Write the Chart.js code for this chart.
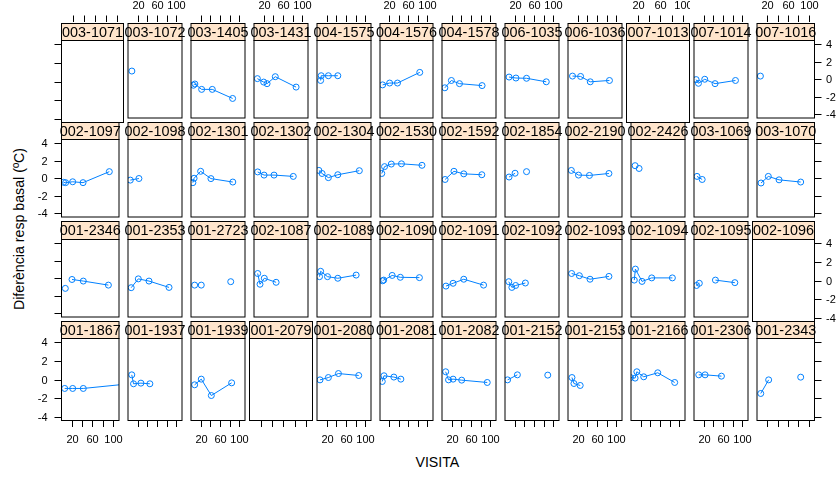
<!DOCTYPE html>
<html>
<head>
<meta charset="utf-8">
<script src="https://cdn.jsdelivr.net/npm/chart.js@4.4.1/dist/chart.umd.min.js"></script>
<style>
  html, body { margin: 0; padding: 0; background: #ffffff; }
  #fig { position: relative; width: 838px; height: 478px; overflow: hidden;
         font-family: "Liberation Sans", Arial, sans-serif; }
  #fig canvas { position: absolute; }
  .axis-title { position: absolute; font-size: 14.2px; color: #000; white-space: nowrap; }
  #xlab { left: 437.4px; top: 461.7px; transform: translate(-50%, -50%); }
  #ylab { left: 19px; top: 228.5px; transform: translate(-50%, -50%) rotate(-90deg); }
</style>
</head>
<body>
<div id="fig">
  <div class="axis-title" id="xlab">VISITA</div>
  <div class="axis-title" id="ylab">Diferència resp basal (ºC)</div>
</div>
<script>
// Panels listed row by row, top row first, left to right.
const subjects = [
  '003-1071','003-1072','003-1405','003-1431','004-1575','004-1576','004-1578','006-1035','006-1036','007-1013','007-1014','007-1016',
  '002-1097','002-1098','002-1301','002-1302','002-1304','002-1530','002-1592','002-1854','002-2190','002-2426','003-1069','003-1070',
  '001-2346','001-2353','001-2723','002-1087','002-1089','002-1090','002-1091','002-1092','002-1093','002-1094','002-1095','002-1096',
  '001-1867','001-1937','001-1939','001-2079','001-2080','001-2081','001-2082','001-2152','001-2153','001-2166','001-2306','001-2343'
];

// VISITA (x) for each subject; a null in diff breaks the line there.
const visita = [
  [], [8], [5, 8, 22, 44, 86], [7, 20, 27, 44, 87], [7.5, 8.7, 23.5, 43], [5.5, 20.3, 36.8, 83.7],
  [5.9, 19.4, 36.1, 82.8], [8.4, 22.6, 44.5, 85.3], [9.3, 26, 46, 85.7], [], [4.4, 9.2, 22.2, 43.5, 85.7], [6.6],

  [3.9, 8, 21.7, 41.8, 92.8], [4.8, 22.6], [3.9, 6.4, 19.9, 41.2, 86.4], [7.6, 20.8, 41.4, 81.2],
  [3.9, 10.5, 23.5, 43, 87.5], [3.7, 9.6, 23.8, 45.2, 88.4], [6.4, 24.7, 45, 82.3], [8.4, 20.8, 33, 44.5],
  [6.9, 21.7, 44.3, 84.6], [8.5, 12.5, 16.7], [6.2, 16.9], [7.8, 22, 42.8, 84.8],

  [7.4, 14, 20.4, 42.3, 91], [6.6, 21.3, 43.4, 84.8], [7.5, 14, 21.2, 50, 82.1], [7.6, 12.4, 21.3, 45.7],
  [5.2, 7.5, 21.7, 43, 80.9], [5.5, 7.8, 25.6, 42.8, 83], [8.2, 22.9, 45, 85.9], [7.8, 14.2, 22, 42.1],
  [7.5, 23.5, 45.5, 84.6], [6.8, 9.1, 22.8, 42.8, 85.5], [5.2, 11, 28, 44.3, 84.4], [],

  [6.2, 21.7, 42.3, 130], [7.8, 11.4, 26.7, 45.2], [7.5, 21.2, 42, 84], [], [6.2, 23.5, 44.3, 86.2],
  [4.8, 8.4, 29.2, 43.9], [7.6, 13.5, 22.9, 40.7, 93.5], [5.3, 25.6, 55, 88.4], [8.2, 12.3, 25.2],
  [-1, 8.5, 12.1, 26.3, 55.3, 90.3], [9.8, 22.9, 56.7], [7.3, 22.6, 50, 84.8]
];

// Difference in basal response (ºC) matching visita, entry by entry.
const diff = [
  [], [0.93], [-0.68, -0.54, -1.15, -1.15, -2.18], [0.07, -0.32, -0.5, 0.29, -0.89], [-0.14, 0.4, 0.4, 0.4], [-0.64, -0.43, -0.43, 0.78],
  [-0.97, -0.14, -0.5, -0.72], [0.25, 0.14, 0.11, -0.29], [0.36, 0.32, -0.29, -0.14], [], [-0.04, -0.46, 0, -0.5, -0.14], [0.36],

  [-0.46, -0.5, -0.4, -0.5, 0.75], [-0.21, -0.03], [-0.5, 0, 0.79, -0.04, -0.43], [0.72, 0.36, 0.36, 0.21],
  [0.89, 0.54, 0.07, 0.4, 0.86], [0.54, 1.32, 1.61, 1.64, 1.47], [-0.14, 0.79, 0.5, 0.4], [0.14, 0.57, null, 0.75],
  [0.89, 0.36, 0.32, 0.54], [1.43, null, 1.11], [0.21, -0.14], [-0.54, 0.21, -0.18, -0.43],

  [-1.15, null, -0.14, -0.32, -0.78], [-1.07, -0.07, -0.32, -1.04], [-0.78, null, -0.78, null, -0.39], [0.54, -0.68, 0, -0.46],
  [0.18, 0.79, 0.18, 0, 0.36], [-0.29, -0.21, 0.32, 0.11, 0.07], [-0.89, -0.57, -0.11, -0.78], [-0.39, -1.04, -0.82, -0.54],
  [0.54, 0.29, -0.11, 0.21], [-0.21, 1.04, -0.36, 0.04, 0.04], [-0.82, -0.57, null, -0.21, -0.5], [],

  [-0.96, -0.96, -0.96, -0.47], [0.5, -0.46, -0.39, -0.46], [-0.57, 0.04, -1.72, -0.36], [], [-0.04, 0.21, 0.64, 0.43],
  [-0.21, 0.4, 0.26, 0.04], [0.83, -0.04, 0.04, -0.07, -0.32], [-0.04, 0.5, null, 0.47], [0.21, -0.43, -0.64],
  [0.21, 0.15, 0.83, 0.29, 0.72, -0.32], [0.5, 0.5, 0.36], [-1.5, -0.04, null, 0.25]
];

const xTicks = [20, 40, 60, 80, 100];
const xTickLabels = ['20', '', '60', '', '100'];
const yTicks = [-4, -2, 0, 2, 4];
const yTickLabels = ['-4', '-2', '0', '2', '4'];

const X_RANGE = [0, 111.6];
const Y_RANGE = [-4.4, 4.4];

const NCOL = 12, NROW = 4;
const W = 838, H = 478;
const FONT = '"Liberation Sans", Arial, sans-serif';
const BLUE = '#0080ff';
const STRIP_BG = '#ffe5cc';

// Grid geometry of the panel layout
const colEdge = c => Math.round(60.5 + c * 62.82);
const rowTop = r => Math.round(22.5 + r * 99.45);
const plotTop = r => Math.round(22.5 + r * 99.45 + 17.3);
const rowBottom = r => Math.round(22.5 + (r + 1) * 99.45);

// Draws strip, panel frame and outer-axis ticks for one panel
const panelDecor = {
  id: 'panelDecor',
  afterDraw(chart, args, o) {
    const ctx = chart.ctx;
    const a = chart.chartArea;
    const xs = chart.scales.x, ys = chart.scales.y;
    ctx.save();
    ctx.lineWidth = 1;
    ctx.strokeStyle = '#000';
    ctx.fillStyle = '#000';

    // strip
    const sTop = o.padT + 0.5;
    ctx.fillStyle = STRIP_BG;
    ctx.fillRect(a.left, sTop, a.right - a.left, a.top - sTop);
    ctx.strokeRect(a.left, sTop, a.right - a.left, a.top - sTop);
    ctx.fillStyle = '#000';
    ctx.font = '14.4px ' + FONT;
    ctx.textAlign = 'center';
    ctx.textBaseline = 'middle';
    ctx.fillText(o.label, (a.left + a.right) / 2, (sTop + a.top) / 2 + 1);

    // panel frame
    ctx.strokeRect(a.left, a.top, a.right - a.left, a.bottom - a.top);

    ctx.font = '11px ' + FONT;
    ctx.beginPath();
    if (o.r === 0) {
      xTicks.forEach((v, i) => {
        const px = Math.round(xs.getPixelForValue(v)) + 0.5;
        ctx.moveTo(px, sTop - 1.5);
        ctx.lineTo(px, sTop - 8);
        if (o.c % 2 === 1 && xTickLabels[i]) {
          ctx.fillText(xTickLabels[i], px, 5.5);
        }
      });
    }
    if (o.r === NROW - 1) {
      xTicks.forEach((v, i) => {
        const px = Math.round(xs.getPixelForValue(v)) + 0.5;
        ctx.moveTo(px, a.bottom);
        ctx.lineTo(px, a.bottom + 6.5);
        if (o.c % 2 === 0 && xTickLabels[i]) {
          ctx.fillText(xTickLabels[i], px, a.bottom + 19);
        }
      });
    }
    if (o.c === 0) {
      ctx.textAlign = 'right';
      yTicks.forEach((v, i) => {
        const py = Math.round(ys.getPixelForValue(v)) + 0.5;
        ctx.moveTo(a.left, py);
        ctx.lineTo(a.left - 7, py);
        if (o.r % 2 === 1) ctx.fillText(yTickLabels[i], a.left - 14, py);
      });
    }
    if (o.c === NCOL - 1) {
      ctx.textAlign = 'left';
      yTicks.forEach((v, i) => {
        const py = Math.round(ys.getPixelForValue(v)) + 0.5;
        ctx.moveTo(a.right, py);
        ctx.lineTo(a.right + 7, py);
        if (o.r % 2 === 0) ctx.fillText(yTickLabels[i], a.right + 11.5, py);
      });
    }
    ctx.stroke();
    ctx.restore();
  }
};

const fig = document.getElementById('fig');

subjects.forEach((label, k) => {
  const r = Math.floor(k / NCOL), c = k % NCOL;
  const L = colEdge(c), R = colEdge(c + 1);
  const T = rowTop(r), P = plotTop(r), B = rowBottom(r);
  const padL = c === 0 ? L : 0;
  const padR = c === NCOL - 1 ? W - R - 1 : 0;
  const padT = r === 0 ? T : 0;
  const padB = r === NROW - 1 ? H - B - 1 : 0;

  const cv = document.createElement('canvas');
  cv.width = R - L + 1 + padL + padR;
  cv.height = B - T + 1 + padT + padB;
  cv.style.left = (L - padL) + 'px';
  cv.style.top = (T - padT) + 'px';
  cv.style.width = cv.width + 'px';
  cv.style.height = cv.height + 'px';
  fig.appendChild(cv);

  const pts = visita[k].map((x, i) => ({ x: x, y: diff[k][i] }));

  new Chart(cv, {
    type: 'line',
    data: {
      datasets: [{
        data: pts,
        borderColor: BLUE,
        borderWidth: 1,
        pointStyle: 'circle',
        pointRadius: 3,
        pointBorderWidth: 1,
        pointBorderColor: BLUE,
        pointBackgroundColor: 'rgba(0,0,0,0)',
        fill: false,
        tension: 0,
        spanGaps: false,
        clip: { left: 0, right: 0, top: 6, bottom: 6 }
      }]
    },
    options: {
      responsive: false,
      animation: false,
      devicePixelRatio: 1,
      events: [],
      layout: {
        padding: { left: padL + 0.5, right: padR + 0.5, top: padT + (P - T) + 0.5, bottom: padB + 0.5 }
      },
      scales: {
        x: { type: 'linear', min: X_RANGE[0], max: X_RANGE[1], display: false },
        y: { type: 'linear', min: Y_RANGE[0], max: Y_RANGE[1], display: false }
      },
      plugins: {
        legend: { display: false },
        tooltip: { enabled: false },
        panelDecor: { label: label, r: r, c: c, padT: padT }
      }
    },
    plugins: [panelDecor]
  });
});
</script>
</body>
</html>
